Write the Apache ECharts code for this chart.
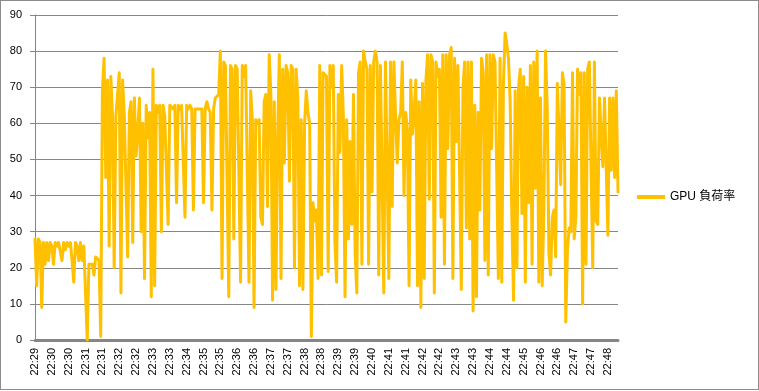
<!DOCTYPE html>
<html>
<head>
<meta charset="utf-8">
<script src="https://cdn.jsdelivr.net/npm/echarts@6/dist/echarts.min.js"></script>
<style>
html,body{margin:0;padding:0;background:#fff;}
#frame{position:absolute;left:0;top:0;width:757px;height:388px;border:1px solid #8c8c8c;}
#chart{position:absolute;left:0;top:0;width:759px;height:391px;}
</style>
</head>
<body>
<div id="frame"></div>
<div id="chart"></div>
<script>
// Tick labels shown every 10 samples
const tickLabels = ['22:29','22:30','22:30','22:31','22:31','22:32','22:32','22:33','22:33','22:34',
  '22:35','22:35','22:36','22:36','22:37','22:37','22:38','22:38','22:39','22:39',
  '22:40','22:41','22:41','22:42','22:42','22:43','22:43','22:44','22:44','22:45',
  '22:46','22:46','22:47','22:47','22:48'];
const samplesPerTick = 10;
const seriesName = 'GPU 負荷率';
// GPU load (%)
const gpuLoad = [
  28,15,28,27,9,27,21,27,22,27,
  26,21,27,26,27,27,22,27,25,27,
  26,27,22,16,27,26,22,27,22,26,
  26,0,21,21,21,18,23,23,22,1,
  69,78,45,72,26,73,62,20,62,62,
  74,13,72,62,62,23,63,66,27,67,
  51,58,67,30,60,17,65,56,63,12,
  75,15,65,63,65,30,65,62,62,32,
  65,65,64,65,38,65,64,65,65,34,
  65,64,65,64,36,64,64,64,64,64,
  38,64,66,64,63,36,64,67,67,68,
  80,17,77,76,76,12,76,75,28,76,
  75,46,16,76,73,76,76,16,69,61,
  9,61,60,61,34,32,66,68,37,79,
  68,11,66,14,56,79,17,75,49,76,
  74,44,76,75,20,75,67,15,61,14,
  60,69,63,60,1,38,33,36,17,76,
  18,74,74,73,19,76,70,76,27,16,
  68,52,76,62,12,61,28,55,32,68,
  24,13,74,77,21,80,77,75,21,76,
  41,77,80,77,18,76,76,13,77,77,
  17,77,37,77,62,49,61,63,77,40,
  63,58,15,72,57,63,72,15,66,9,
  71,17,72,79,39,79,77,13,77,73,
  75,34,79,21,79,53,79,81,17,78,
  55,76,45,14,70,77,31,77,28,77,
  8,65,12,63,36,78,74,22,79,18,
  79,53,79,77,77,17,78,16,71,85,
  82,78,66,34,11,69,20,70,75,35,
  73,16,70,38,76,21,77,42,80,16,
  67,15,36,80,64,24,18,34,36,23,
  71,71,43,74,71,5,25,31,30,74,
  28,34,75,68,74,10,74,21,75,77,
  77,20,77,33,32,67,67,48,67,67,
  29,67,47,67,45,69,41
];
const yMin = 0, yMax = 90, yStep = 10;

const categories = gpuLoad.map((v, i) => String(i));
const chart = echarts.init(document.getElementById('chart'), null, {renderer: 'canvas'});
const font = '"Liberation Sans", Arial, sans-serif';
chart.setOption({
  animation: false,
  backgroundColor: 'transparent',
  grid: {left: 35, right: 141, top: 15, bottom: 51, containLabel: false},
  legend: {
    data: [seriesName],
    left: 632, top: 186,
    icon: 'rect', itemWidth: 28, itemHeight: 4,
    textStyle: {fontFamily: '"Liberation Sans", "Noto Sans CJK JP", sans-serif', fontSize: 12, color: '#000'}
  },
  xAxis: {
    type: 'category',
    data: categories,
    boundaryGap: false,
    axisLine: {show: true, lineStyle: {color: '#868686', width: 3}},
    axisTick: {show: false},
    splitLine: {show: false},
    axisLabel: {
      interval: samplesPerTick - 1,
      rotate: 90,
      margin: 8,
      fontFamily: font, fontSize: 11, color: '#000',
      formatter: (val, idx) => tickLabels[Math.round(idx / samplesPerTick)] || ''
    }
  },
  yAxis: {
    type: 'value',
    min: yMin, max: yMax, interval: yStep,
    axisLine: {show: true, lineStyle: {color: '#868686', width: 1}},
    axisTick: {show: true, length: 5, lineStyle: {color: '#868686'}},
    splitLine: {show: true, lineStyle: {color: '#868686', width: 1}},
    axisLabel: {margin: 13, fontFamily: font, fontSize: 11, color: '#000'}
  },
  series: [{
    name: seriesName,
    type: 'line',
    data: gpuLoad,
    showSymbol: false,
    symbol: 'none',
    lineStyle: {color: '#FFC000', width: 3, join: 'round', cap: 'round'},
    itemStyle: {color: '#FFC000'}
  }]
});
</script>
</body>
</html>
